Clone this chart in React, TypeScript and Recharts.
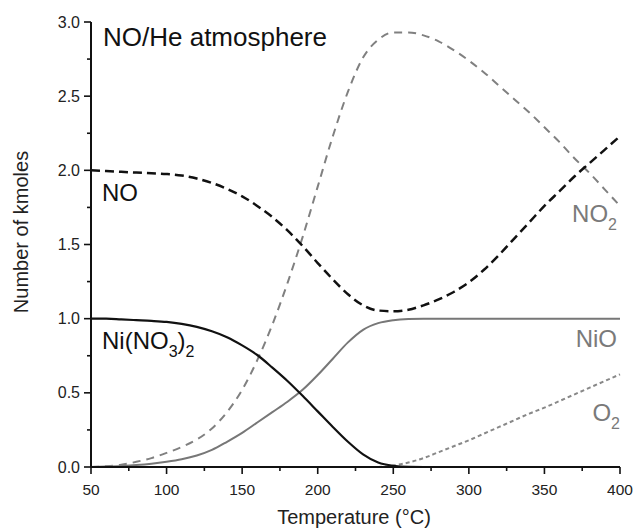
import React from 'react';
import { LineChart, Line, XAxis, YAxis } from 'recharts';

// temperature grid (°C)
const temps = [
    50, 60, 70, 80, 90, 100, 110, 120, 130, 140, 150, 160, 170, 180, 190, 200, 210, 220,
    230, 240, 250, 260, 270, 280, 290, 300, 310, 320, 330, 340, 350, 360, 370, 380, 390, 400
];

// kmoles per species
const niNitrate = [
    1.0, 1.0, 0.995, 0.99, 0.985, 0.978, 0.965, 0.945, 0.915, 0.875, 0.82, 0.755, 0.67, 0.58,
    0.48, 0.375, 0.27, 0.17, 0.085, 0.03, 0.008, 0.001, 0, 0,
    null, null, null, null, null, null, null, null, null, null, null, null
];
const nickelOxide = [
    0, 0.003, 0.007, 0.013, 0.022, 0.035, 0.052, 0.077, 0.115, 0.17, 0.23, 0.3, 0.37, 0.44,
    0.52, 0.62, 0.73, 0.84, 0.925, 0.97, 0.99, 0.998, 1, 1, 1, 1, 1, 1, 1, 1, 1, 1, 1, 1, 1, 1
];
const noValues = [
    2.0, 1.995, 1.99, 1.985, 1.98, 1.975, 1.965, 1.945, 1.915, 1.875, 1.825, 1.76, 1.685, 1.595,
    1.49, 1.375, 1.265, 1.165, 1.09, 1.055, 1.05, 1.06, 1.09, 1.13, 1.18, 1.245, 1.33, 1.43,
    1.54, 1.65, 1.76, 1.86, 1.96, 2.05, 2.14, 2.23
];
const no2Values = [
    0, 0.005, 0.015, 0.035, 0.06, 0.095, 0.135, 0.185, 0.26, 0.37, 0.52, 0.72, 0.96, 1.24,
    1.55, 1.89, 2.23, 2.53, 2.76, 2.88, 2.93, 2.93, 2.91, 2.87, 2.81, 2.74, 2.66, 2.57, 2.48,
    2.39, 2.29, 2.19, 2.08, 1.98, 1.87, 1.76
];
const o2Values = [
    0, 0, 0, 0, 0, 0, 0, 0, 0, 0, 0, 0, 0, 0, 0, 0, 0, 0, 0, 0,
    0.01, 0.03, 0.06, 0.1, 0.14, 0.18, 0.225, 0.27, 0.315, 0.36, 0.4, 0.445, 0.49, 0.535,
    0.58, 0.625
];

const xTicks = [50, 75, 100, 125, 150, 175, 200, 225, 250, 275, 300, 325, 350, 375, 400];
const xMajor = [50, 100, 150, 200, 250, 300, 350, 400];
const yTicks = [0, 0.25, 0.5, 0.75, 1, 1.25, 1.5, 1.75, 2, 2.25, 2.5, 2.75, 3];
const yMajor = [0, 0.5, 1, 1.5, 2, 2.5, 3];

const font = '"Liberation Sans", Arial, sans-serif';
const ink = '#111';
const grey = '#7a7a7a';

const data = temps.map((t, i) => ({
    t,
    ni: niNitrate[i],
    nio: nickelOxide[i],
    no: noValues[i],
    no2: no2Values[i],
    o2: o2Values[i]
}));

function XTick({ x, y, payload }: any) {
    const major = xMajor.includes(payload.value);
    return (
        <g>
            <line x1={x} x2={x} y1={y} y2={y + (major ? 7 : 4)} stroke={ink} strokeWidth={1.6} />
            {major && (
                <text x={x} y={y + 17} dy="0.71em" textAnchor="middle" fontSize={15.5} fontFamily={font} fill="#222">
                    {payload.value}
                </text>
            )}
        </g>
    );
}

function YTick({ x, y, payload }: any) {
    const major = yMajor.includes(payload.value);
    return (
        <g>
            <line x1={x} x2={x - (major ? 7 : 4)} y1={y} y2={y} stroke={ink} strokeWidth={1.6} />
            {major && (
                <text x={x - 11} y={y} dy="0.35em" textAnchor="end" fontSize={16} fontFamily={font} fill="#222">
                    {payload.value.toFixed(1)}
                </text>
            )}
        </g>
    );
}

export default function App() {
    return (
        <div style={{ position: 'relative', width: 633, height: 529 }}>
            <style>{'body { margin: 0; }'}</style>
            <LineChart width={633} height={529} data={data} margin={{ top: 22, right: 13, left: 0, bottom: 0 }}>
                <XAxis
                    dataKey="t"
                    type="number"
                    domain={[50, 400]}
                    ticks={xTicks}
                    interval={0}
                    height={62}
                    tickSize={0}
                    tickMargin={0}
                    tickLine={false}
                    tick={<XTick />}
                    axisLine={{ stroke: ink, strokeWidth: 2 }}
                />
                <YAxis
                    type="number"
                    domain={[0, 3]}
                    ticks={yTicks}
                    interval={0}
                    width={91}
                    tickSize={0}
                    tickMargin={0}
                    tickLine={false}
                    tick={<YTick />}
                    axisLine={{ stroke: ink, strokeWidth: 2 }}
                />
                <Line dataKey="o2" type="monotone" stroke="#888" strokeWidth={2} strokeDasharray="4 3" dot={false} isAnimationActive={false} />
                <Line dataKey="nio" type="monotone" stroke="#777" strokeWidth={2} dot={false} isAnimationActive={false} />
                <Line dataKey="no2" type="monotone" stroke="#808080" strokeWidth={2} strokeDasharray="8 6" dot={false} isAnimationActive={false} />
                <Line dataKey="ni" type="monotone" stroke={ink} strokeWidth={2.2} dot={false} isAnimationActive={false} />
                <Line dataKey="no" type="monotone" stroke={ink} strokeWidth={2.5} strokeDasharray="9 5" dot={false} isAnimationActive={false} />
            </LineChart>
            <svg width={633} height={529} style={{ position: 'absolute', left: 0, top: 0, pointerEvents: 'none' }} fontFamily={font}>
                <text x={103} y={46} fontSize={26} fill={ink}>NO/He atmosphere</text>
                <text x={102} y={201} fontSize={24} fill={ink}>NO</text>
                <text x={102} y={349} fontSize={24} fill={ink}>
                    Ni(NO<tspan fontSize={16} dy={8}>3</tspan>
                    <tspan dy={-8}>)</tspan>
                    <tspan fontSize={16} dy={8}>2</tspan>
                </text>
                <text x={617} y={222} fontSize={24} fill={grey} textAnchor="end">
                    NO<tspan fontSize={16} dy={8}>2</tspan>
                </text>
                <text x={617} y={347} fontSize={24} fill={grey} textAnchor="end">NiO</text>
                <text x={620} y={421} fontSize={24} fill={grey} textAnchor="end">
                    O<tspan fontSize={16} dy={8}>2</tspan>
                </text>
                <text x={354} y={524} fontSize={20} fill="#222" textAnchor="middle">Temperature (°C)</text>
                <text transform="translate(28 232) rotate(-90)" fontSize={20} fill="#222" textAnchor="middle">
                    Number of kmoles
                </text>
            </svg>
        </div>
    );
}
